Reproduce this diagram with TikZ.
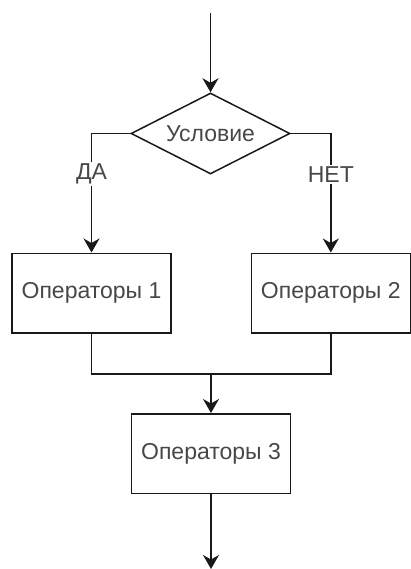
\documentclass[tikz,border=0pt]{standalone}
\usepackage{fontspec}
\setmainfont{Liberation Sans}
\usetikzlibrary{shapes.geometric,arrows.meta}
\begin{document}
\begin{tikzpicture}[x=1pt,y=-1pt,
  line/.style={draw=black!90, line width=1.5pt},
  arr/.style={line, -{Stealth[length=14pt,width=16pt,inset=4.5pt]}},
  txt/.style={font=\fontsize{23}{26}\selectfont, text=black!72},
  box/.style={txt, draw=black!90, line width=1.5pt, rectangle, minimum width=159pt, minimum height=79.5pt, inner sep=0pt},
  cond/.style={txt, draw=black!90, line width=1.5pt, diamond, aspect=1.96, minimum width=159pt, minimum height=81pt, inner sep=0pt},
  lbl/.style={txt, fill=white, inner sep=1.5pt}]
\useasboundingbox (0,0) rectangle (411,569);
\coordinate (start) at (210.5,13);
\node[cond] (c) at (210.5,133.5) {Условие};
\node[box] (b1) at (91.5,293) {Операторы 1};
\node[box] (b2) at (330.8,293) {Операторы 2};
\node[box] (b3) at (211,453.5) {Операторы 3};
\coordinate (j) at (211,374);
\coordinate (end) at (211,569);
\draw[arr] (start) -- (c.north);
\draw[arr] (c.west) -| node[lbl, pos=0.671] {ДА} (b1.north);
\draw[arr] (c.east) -| node[lbl, pos=0.671] {НЕТ} (b2.north);
\draw[line] (b1.south) |- (j);
\draw[line] (b2.south) |- (j);
\draw[arr] (j) -- (b3.north);
\draw[arr] (b3.south) -- (end);
\end{tikzpicture}
\end{document}
